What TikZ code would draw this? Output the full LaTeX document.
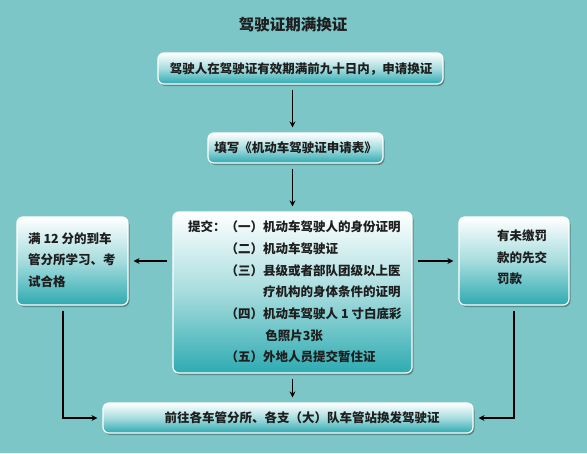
\documentclass[tikz,border=0pt]{standalone}
\usepackage{fontspec}
\setmainfont{Noto Sans CJK SC}
\usetikzlibrary{arrows.meta,shadows}
\definecolor{bgteal}{HTML}{7CC6C8}
\definecolor{boxteal}{HTML}{2EABB1}
\definecolor{boxmid}{HTML}{A6DCDE}
\definecolor{inkgray}{HTML}{1E1E1E}
\tikzset{
  stepbox/.style={draw=white,line width=1.2pt,rounded corners=6pt,top color=white,bottom color=boxteal,middle color=boxmid,inner sep=0pt,
    drop shadow={shadow xshift=1.5pt,shadow yshift=-2pt,opacity=.3,fill=black}},
  boxtext/.style={inner sep=0pt,text=inkgray,align=left,font=\fontsize{12.5}{21.7}\selectfont\bfseries},
  arr/.style={line width=1.3pt,-{Stealth[length=6pt,width=6pt]},shorten <=5pt,shorten >=5pt}
}
\begin{document}
\begin{tikzpicture}[x=1pt,y=-1pt]
\fill[bgteal] (0,0) rectangle (587,453);
\path[use as bounding box] (0,0) rectangle (587,453);
\node[boxtext,font=\fontsize{15.5}{18}\selectfont\bfseries] (title) at (293,25) {驾驶证期满换证};
\node[stepbox,minimum width=285pt,minimum height=31pt] (apply) at (300.5,68.5) {};
\node[boxtext] (applytxt) at (301,69) {驾驶人在驾驶证有效期满前九十日内，申请换证};
\node[stepbox,minimum width=175pt,minimum height=30pt] (fill) at (295.5,148) {};
\node[boxtext] (filltxt) at (295.5,148) {填写《机动车驾驶证申请表》};
\node[stepbox,minimum width=239pt,minimum height=161pt] (submit) at (292.5,292.5) {};
\node[boxtext,anchor=west] (submittxt) at (188,292) {提交：（一）机动车驾驶人的身份证明\\
\hphantom{提交：}（二）机动车驾驶证\\
\hphantom{提交：}（三）县级或者部队团级以上医\\
\hphantom{提交：（三）}疗机构的身体条件的证明\\
\hphantom{提交：}（四）机动车驾驶人 1 寸白底彩\\
\hphantom{提交：（四）}\,色照片3张\\
\hphantom{提交：}（五）外地人员提交暂住证};
\node[stepbox,minimum width=111pt,minimum height=88pt] (study) at (72.5,261) {};
\node[boxtext,anchor=west] (studytxt) at (28,260) {满 12 分的到车\\管分所学习、考\\试合格};
\node[stepbox,minimum width=110pt,minimum height=88pt] (fine) at (514,261) {};
\node[boxtext,anchor=west] (finetxt) at (497,257.5) {有未缴罚\\款的先交\\罚款};
\node[stepbox,minimum width=370pt,minimum height=30pt] (issue) at (288,418) {};
\node[boxtext] (issuetxt) at (302,418) {前往各车管分所、各支（大）队车管站换发驾驶证};
\draw[arr] (apply.south -| submit.north) -- (fill.north -| submit.north);
\draw[arr] (fill.south -| submit.north) -- (submit.north);
\draw[arr] (submit.south) -- (submit.south |- issue.north);
\draw[arr] (submit.west |- study.east) -- (study.east);
\draw[arr] (submit.east |- fine.west) -- (fine.west);
\draw[arr] ([xshift=-9.5pt]study.south) |- (issue.west);
\draw[arr] (fine.south) |- (issue.east);
\end{tikzpicture}
\end{document}
